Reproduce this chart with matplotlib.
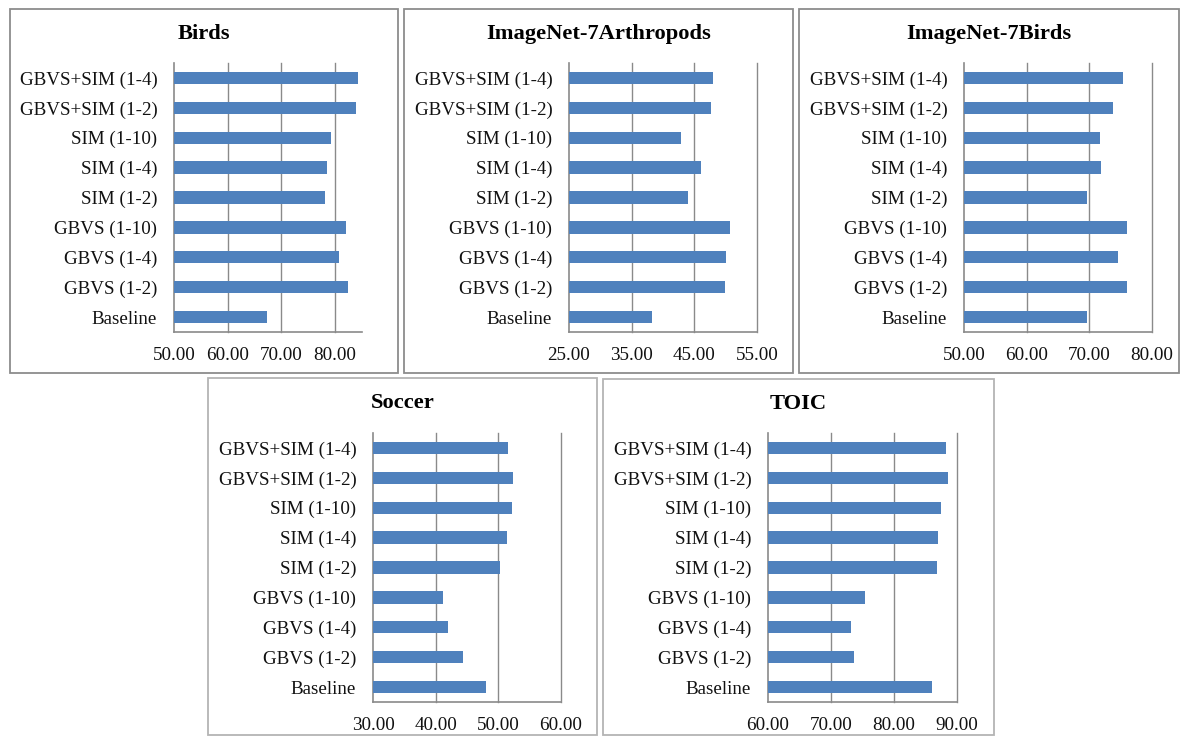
import matplotlib
matplotlib.use("Agg")
import matplotlib.pyplot as plt
from matplotlib.patches import Rectangle

plt.rcParams["font.family"] = ["Liberation Serif", "DejaVu Serif"]

categories = ["GBVS+SIM (1-4)", "GBVS+SIM (1-2)", "SIM (1-10)", "SIM (1-4)",
              "SIM (1-2)", "GBVS (1-10)", "GBVS (1-4)", "GBVS (1-2)", "Baseline"]

birds = [84.3, 83.9, 79.2, 78.5, 78.2, 82.1, 80.7, 82.4, 67.4]
arthropods = [47.9, 47.6, 42.8, 46.0, 44.0, 50.7, 50.05, 49.9, 38.2]
imagenet_birds = [75.3, 73.85, 71.7, 71.9, 69.7, 76.0, 74.5, 76.0, 69.6]
soccer = [51.6, 52.4, 52.2, 51.4, 50.3, 41.2, 41.9, 44.4, 48.0]
toic = [88.3, 88.5, 87.5, 87.0, 86.8, 75.4, 73.2, 73.7, 86.0]

titles = ["Birds", "ImageNet-7Arthropods", "ImageNet-7Birds", "Soccer", "TOIC"]
series = [birds, arthropods, imagenet_birds, soccer, toic]
ticks = [[50, 60, 70, 80], [25, 35, 45, 55], [50, 60, 70, 80],
         [30, 40, 50, 60], [60, 70, 80, 90]]
limits = [(50, 85), (25, 55), (50, 80), (30, 60), (60, 90)]

W, H = 1180, 737
fig = plt.figure(figsize=(W / 100, H / 100), dpi=100)

# panel frames (pixels: x0, y0, x1, y1) and plot areas (x0, y0, x1, y1)
frames = [(10, 9, 398, 373), (404, 9, 793, 373), (799, 9, 1179, 373),
          (208, 378, 597, 735), (603, 379, 994, 735)]
frame_colors = ["#8c8c8c", "#8c8c8c", "#8c8c8c", "#b4b4b4", "#b4b4b4"]
areas = [(174, 63, 362, 332), (569, 63, 757, 332), (964, 63, 1152, 332),
         (373, 433, 561, 702), (768, 433, 957, 702)]

grid_color = "#8a8a8a"
bar_color = "#4F81BD"

for (fx0, fy0, fx1, fy1), fc in zip(frames, frame_colors):
    fig.patches.append(Rectangle((fx0 / W, 1 - fy1 / H), (fx1 - fx0) / W, (fy1 - fy0) / H,
                                 transform=fig.transFigure, fill=False,
                                 edgecolor=fc, linewidth=1.3))

for i in range(5):
    ax0, ay0, ax1, ay1 = areas[i]
    ax = fig.add_axes([ax0 / W, 1 - ay1 / H, (ax1 - ax0) / W, (ay1 - ay0) / H])
    ypos = list(range(len(categories)))[::-1]
    ax.barh(ypos, series[i], left=0, height=0.41, color=bar_color, zorder=3)
    ax.set_xlim(*limits[i])
    ax.set_ylim(-0.5, len(categories) - 0.5)
    ax.set_yticks(ypos)
    ax.set_yticklabels(categories, fontsize=13.7, color="#111111")
    ax.set_xticks(ticks[i])
    ax.set_xticklabels([f"{t:.2f}" for t in ticks[i]], fontsize=13.8, color="#111111")
    ax.tick_params(axis="y", length=0, pad=12)
    ax.tick_params(axis="x", length=0, pad=11)
    for t in ticks[i]:
        if t > limits[i][0]:
            ax.axvline(t, color=grid_color, linewidth=1.0, zorder=1, clip_on=False)
    for side in ["top", "right"]:
        ax.spines[side].set_visible(False)
    for side in ["left", "bottom"]:
        ax.spines[side].set_color(grid_color)
        ax.spines[side].set_linewidth(1.2)
    fx0, fy0, fx1, fy1 = frames[i]
    fig.text((fx0 + fx1) / 2 / W, 1 - (fy0 + 25) / H, titles[i],
             ha="center", va="center", fontsize=16.2, fontweight="bold")

fig.savefig("out.png", dpi=100, facecolor="white")
